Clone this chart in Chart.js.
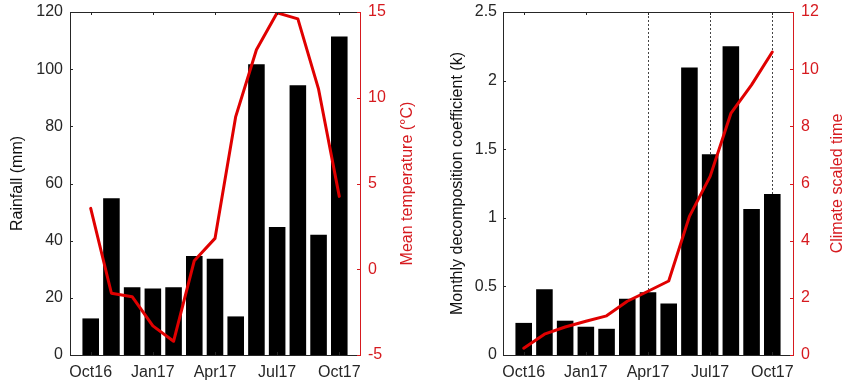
<!DOCTYPE html>
<html><head><meta charset="utf-8">
<script src="https://cdn.jsdelivr.net/npm/chart.js@4/dist/chart.umd.min.js"></script>
<style>
html,body{margin:0;padding:0;background:#fff;overflow:hidden;}
#a{position:absolute;left:0;top:0;width:420px;height:388px;}
#b{position:absolute;left:420px;top:0;width:424px;height:388px;}
</style></head><body>
<div id="a"><canvas id="c1" width="420" height="388"></canvas></div>
<div id="b"><canvas id="c2" width="424" height="388"></canvas></div>
<script>
const months = ['Oct16','Nov16','Dec16','Jan17','Feb17','Mar17','Apr17','May17','Jun17','Jul17','Aug17','Sep17','Oct17'];
const tickLabels = ['Oct16','Jan17','Apr17','Jul17','Oct17'];
const dashedMonths = ['Apr17','Jul17','Oct17'];
const rainfall = [12.8, 54.8, 23.7, 23.3, 23.7, 34.6, 33.7, 13.5, 101.7, 44.8, 94.4, 42.1, 111.4];
const meanTemp = [3.55, -1.4, -1.6, -3.3, -4.2, 0.5, 1.8, 8.9, 12.8, 14.95, 14.6, 10.5, 4.25];
const decompK = [0.234, 0.479, 0.25, 0.206, 0.191, 0.41, 0.458, 0.375, 2.095, 1.463, 2.25, 1.065, 1.173];
const climateTime = [0.24, 0.73, 0.98, 1.18, 1.37, 1.88, 2.23, 2.59, 4.85, 6.25, 8.45, 9.45, 10.6];

const RED = '#e00000';
const RED_TXT = '#d61a1f';
const DARK = '#262626';
const FONT = '"Liberation Sans", Arial, Helvetica, sans-serif';
Chart.defaults.font.family = FONT;
Chart.defaults.font.size = 16;
Chart.defaults.color = DARK;

function pts(arr){ return arr.map((v,i)=>({x:i, y:v})); }
const fmt = v => String(Math.round(v*100)/100);

function decor(rightTitle, titleX, dashed){
  return {
    id: 'decor',
    beforeDatasetsDraw(chart){
      if(!dashed) return;
      const {ctx, chartArea:a, scales:{x}} = chart;
      ctx.save();
      ctx.strokeStyle = '#444'; ctx.lineWidth = 1; ctx.setLineDash([2,2]);
      dashed.forEach(m=>{
        const px = Math.round(x.getPixelForValue(months.indexOf(m))) + 0.5;
        ctx.beginPath(); ctx.moveTo(px, a.top); ctx.lineTo(px, a.bottom); ctx.stroke();
      });
      ctx.restore();
    },
    afterDraw(chart){
      const {ctx, chartArea:a, scales:{x, y, y2}} = chart;
      const L = 3;
      ctx.save();
      ctx.lineWidth = 1;
      ctx.strokeStyle = DARK;
      ctx.beginPath(); ctx.moveTo(a.left, a.top+0.5); ctx.lineTo(a.right, a.top+0.5); ctx.stroke();
      x.ticks.forEach(t=>{
        const px = Math.round(x.getPixelForValue(t.value))+0.5;
        ctx.beginPath(); ctx.moveTo(px, a.bottom); ctx.lineTo(px, a.bottom-L); ctx.stroke();
        ctx.beginPath(); ctx.moveTo(px, a.top); ctx.lineTo(px, a.top+L); ctx.stroke();
      });
      y.ticks.forEach(t=>{
        const py = Math.round(y.getPixelForValue(t.value))+0.5;
        ctx.beginPath(); ctx.moveTo(a.left, py); ctx.lineTo(a.left+L, py); ctx.stroke();
      });
      ctx.strokeStyle = RED_TXT;
      y2.ticks.forEach(t=>{
        const py = Math.round(y2.getPixelForValue(t.value))+0.5;
        ctx.beginPath(); ctx.moveTo(a.right, py); ctx.lineTo(a.right-L, py); ctx.stroke();
      });
      ctx.fillStyle = RED_TXT;
      ctx.font = '16px ' + FONT;
      ctx.translate(titleX, (a.top+a.bottom)/2);
      ctx.rotate(-Math.PI/2);
      ctx.textAlign = 'center'; ctx.textBaseline = 'alphabetic';
      ctx.fillText(rightTitle, 0, 0);
      ctx.restore();
    }
  };
}

function makeChart(id, cfg){
  const fixW = w => s => { s.width = w; s.paddingTop = 0; s.paddingBottom = 0; };
  return new Chart(document.getElementById(id), {
    data: {
      datasets: [
        { type:'line', data: pts(cfg.line), yAxisID:'y2', xAxisID:'x', borderColor: RED, borderWidth: 3,
          pointRadius: 0, tension: 0, order: 0, borderJoinStyle:'round', borderCapStyle:'round' },
        { type:'bar', data: pts(cfg.bars), yAxisID:'y', xAxisID:'x', backgroundColor:'#000',
          borderWidth:0, barPercentage:0.8, categoryPercentage:1, order: 1 }
      ]
    },
    options: {
      responsive:false, animation:false, devicePixelRatio:1,
      layout:{ padding:{ top:12, left:0, right:0, bottom:0 } },
      plugins:{ legend:{display:false}, tooltip:{enabled:false} },
      scales:{
        x:{ type:'linear', min:-1, max:months.length, offset:false,
            afterBuildTicks: s => { s.ticks = tickLabels.map(l=>({value: months.indexOf(l)})); },
            afterFit: s => { s.height = 33; s.paddingLeft = 0; s.paddingRight = 0; },
            ticks:{ callback: v => months[v], padding: 8, maxRotation:0, autoSkip:false, color: DARK },
            grid:{ display:false, drawTicks:false },
            border:{ display:true, color: DARK, width:1 } },
        y:{ position:'left', min:cfg.yMin, max:cfg.yMax,
            afterBuildTicks: s => { s.ticks = cfg.yTicks.map(v=>({value:v})); },
            afterFit: fixW(cfg.leftW),
            ticks:{ padding: cfg.leftPad, color: DARK, callback: fmt },
            grid:{ display:false, drawTicks:false },
            border:{ display:true, color: DARK, width:1 },
            title:{ display:true, text: cfg.leftTitle, color:'#111', font:{size:16}, padding:{top:cfg.titlePad, bottom:0} } },
        y2:{ position:'right', min:cfg.y2Min, max:cfg.y2Max,
            afterBuildTicks: s => { s.ticks = cfg.y2Ticks.map(v=>({value:v})); },
            afterFit: fixW(cfg.rightW),
            ticks:{ padding: 8, color: RED_TXT, callback: fmt },
            grid:{ display:false, drawTicks:false },
            border:{ display:true, color: RED_TXT, width:1 } }
      }
    },
    plugins:[decor(cfg.rightTitle, cfg.rightTitleX, cfg.dashed)]
  });
}

const rainTicks = [0,20,40,60,80,100,120];
const tempTicks = [-5,0,5,10,15];
const kTicks = [0,0.5,1,1.5,2,2.5];
const timeTicks = [0,2,4,6,8,10,12];

makeChart('c1', {
  bars: rainfall, line: meanTemp,
  yMin:0, yMax:120, yTicks: rainTicks,
  y2Min:-5, y2Max:15, y2Ticks: tempTicks,
  leftW:70, rightW:60, leftPad:7, titlePad:8,
  leftTitle:'Rainfall (mm)', rightTitle:'Mean temperature (°C)', rightTitleX:411.5,
  dashed:null
});
makeChart('c2', {
  bars: decompK, line: climateTime,
  yMin:0, yMax:2.5, yTicks: kTicks,
  y2Min:0, y2Max:12, y2Ticks: timeTicks,
  leftW:83, rightW:51, leftPad:6, titlePad:28,
  leftTitle:'Monthly decomposition coefficient (k)', rightTitle:'Climate scaled time', rightTitleX:422,
  dashed: dashedMonths
});
</script>
</body></html>
